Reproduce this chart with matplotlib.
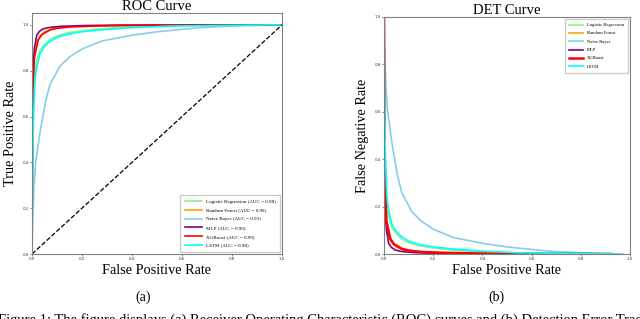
import matplotlib.pyplot as plt

# Courbes ROC (FPR, TPR)
modeles = ["Logistic Regression", "Random Forest", "Naive Bayes", "MLP", "XGBoost", "LSTM"]
auc = [0.98, 0.99, 0.93, 0.99, 0.99, 0.98]
couleurs = ["lightgreen", "orange", "skyblue", "purple", "red", "cyan"]

fpr_lr = [0, 0.002, 0.005, 0.01, 0.02, 0.032, 0.05, 0.072, 0.1, 0.14, 0.2, 0.27, 0.4, 0.55, 0.94, 1.0]
tpr_lr = [0, 0.45, 0.65, 0.78, 0.85, 0.89, 0.915, 0.938, 0.952, 0.965, 0.975, 0.983, 0.992, 0.997, 1.0, 1.0]

fpr_rf = [0, 0.002, 0.005, 0.01, 0.02, 0.03, 0.05, 0.08, 0.12, 0.2, 0.35, 0.93, 1.0]
tpr_rf = [0, 0.55, 0.78, 0.87, 0.925, 0.95, 0.97, 0.983, 0.99, 0.995, 0.998, 1.0, 1.0]

fpr_nb = [0, 0.003, 0.008, 0.015, 0.032, 0.055, 0.072, 0.112, 0.15, 0.2, 0.28, 0.4, 0.5, 0.67, 0.8, 0.97, 1.0]
tpr_nb = [0, 0.15, 0.3, 0.4, 0.53, 0.67, 0.74, 0.82, 0.86, 0.895, 0.93, 0.955, 0.97, 0.988, 0.995, 1.0, 1.0]

fpr_mlp = [0, 0.002, 0.005, 0.01, 0.019, 0.03, 0.045, 0.065, 0.085, 0.12, 0.2, 0.35, 0.92, 1.0]
tpr_mlp = [0, 0.6, 0.82, 0.9, 0.955, 0.972, 0.983, 0.988, 0.991, 0.994, 0.997, 0.999, 1.0, 1.0]

fpr_xgb = [0, 0.002, 0.005, 0.01, 0.025, 0.04, 0.072, 0.1, 0.15, 0.25, 0.4, 0.92, 1.0]
tpr_xgb = [0, 0.5, 0.75, 0.86, 0.935, 0.958, 0.978, 0.985, 0.991, 0.995, 0.998, 1.0, 1.0]

fpr_lstm = [0, 0.002, 0.005, 0.01, 0.016, 0.032, 0.05, 0.072, 0.1, 0.139, 0.2, 0.27, 0.4, 0.55, 0.95, 1.0]
tpr_lstm = [0, 0.3, 0.55, 0.72, 0.8, 0.875, 0.905, 0.928, 0.945, 0.958, 0.97, 0.978, 0.988, 0.995, 1.0, 1.0]

fprs = [fpr_lr, fpr_rf, fpr_nb, fpr_mlp, fpr_xgb, fpr_lstm]
tprs = [tpr_lr, tpr_rf, tpr_nb, tpr_mlp, tpr_xgb, tpr_lstm]

legende_roc = [f"{m} (AUC = {a:.2f})" for m, a in zip(modeles, auc)]
titre_figure = ("Figure 1: The figure displays (a) Receiver Operating Characteristic (ROC) "
                "curves and (b) Detection Error Tradeoff")

serif = ["Liberation Serif", "DejaVu Serif"]
plt.rcParams['font.family'] = ['DejaVu Sans']

fig = plt.figure(figsize=(6.4, 3.19), dpi=100)
W, H = 640, 319


def cadre(x0, y0, x1, y1):
    return [x0 / W, 1 - y1 / H, (x1 - x0) / W, (y1 - y0) / H]


def styliser(ax):
    for s in ax.spines.values():
        s.set_color('#808080')
        s.set_linewidth(0.8)
    ax.tick_params(labelsize=2.8, length=1.2, width=0.4, pad=1, colors='#333333')
    ax.set_xlim(0, 1)
    ax.set_xticks([0, 0.2, 0.4, 0.6, 0.8, 1.0])
    ax.set_yticks([0, 0.2, 0.4, 0.6, 0.8, 1.0])


# (a) ROC
ax1 = fig.add_axes(cadre(32, 13, 282, 254))
for fpr, tpr, c, lab in zip(fprs, tprs, couleurs, legende_roc):
    ax1.plot(fpr, tpr, color=c, lw=1.2, label=lab)
ax1.plot([0, 1], [0, 1], 'k--', lw=0.9)
styliser(ax1)
ax1.set_ylim(0, 1.052)
ax1.set_title("ROC Curve", family=serif, fontsize=10.5, pad=1.5)
ax1.set_xlabel("False Positive Rate", family=serif, fontsize=10.3, labelpad=2)
ax1.set_ylabel("True Positive Rate", family=serif, fontsize=10.3, labelpad=4)
ax1.legend(loc='lower right', prop={'family': serif, 'size': 3.6}, handlelength=3.4,
           labelspacing=0.85, borderpad=0.9, framealpha=1, edgecolor='#cccccc',
           borderaxespad=0.4, fancybox=False)

# (b) DET : FNR = 1 - TPR
ax2 = fig.add_axes(cadre(384, 17, 630, 254))
for fpr, tpr, c, m in zip(fprs, tprs, couleurs, modeles):
    fnr = [1 - t for t in tpr[:-1]]
    lw = 1.8 if m == "XGBoost" else 1.2
    ax2.plot(fpr[:-1], fnr, color=c, lw=lw, label=m)
styliser(ax2)
ax2.set_ylim(0, 1.0)
ax2.set_title("DET Curve", family=serif, fontsize=10.5, pad=2.5)
ax2.set_xlabel("False Positive Rate", family=serif, fontsize=10.3, labelpad=2)
ax2.set_ylabel("False Negative Rate", family=serif, fontsize=10.3, labelpad=4)
ax2.legend(loc='upper right', prop={'family': serif, 'size': 3.3}, handlelength=3.2,
           labelspacing=0.9, borderpad=0.9, framealpha=1, edgecolor='#cccccc',
           borderaxespad=0.4, fancybox=False)

fig.text(143 / W, 1 - 297 / H, "(a)", family=serif, fontsize=10, ha='center', va='center')
fig.text(496 / W, 1 - 297 / H, "(b)", family=serif, fontsize=10, ha='center', va='center')
fig.text(-2 / W, -5 / H, titre_figure, family=serif, fontsize=10.5, ha='left', va='baseline')

fig.savefig("out.png", dpi=100)
